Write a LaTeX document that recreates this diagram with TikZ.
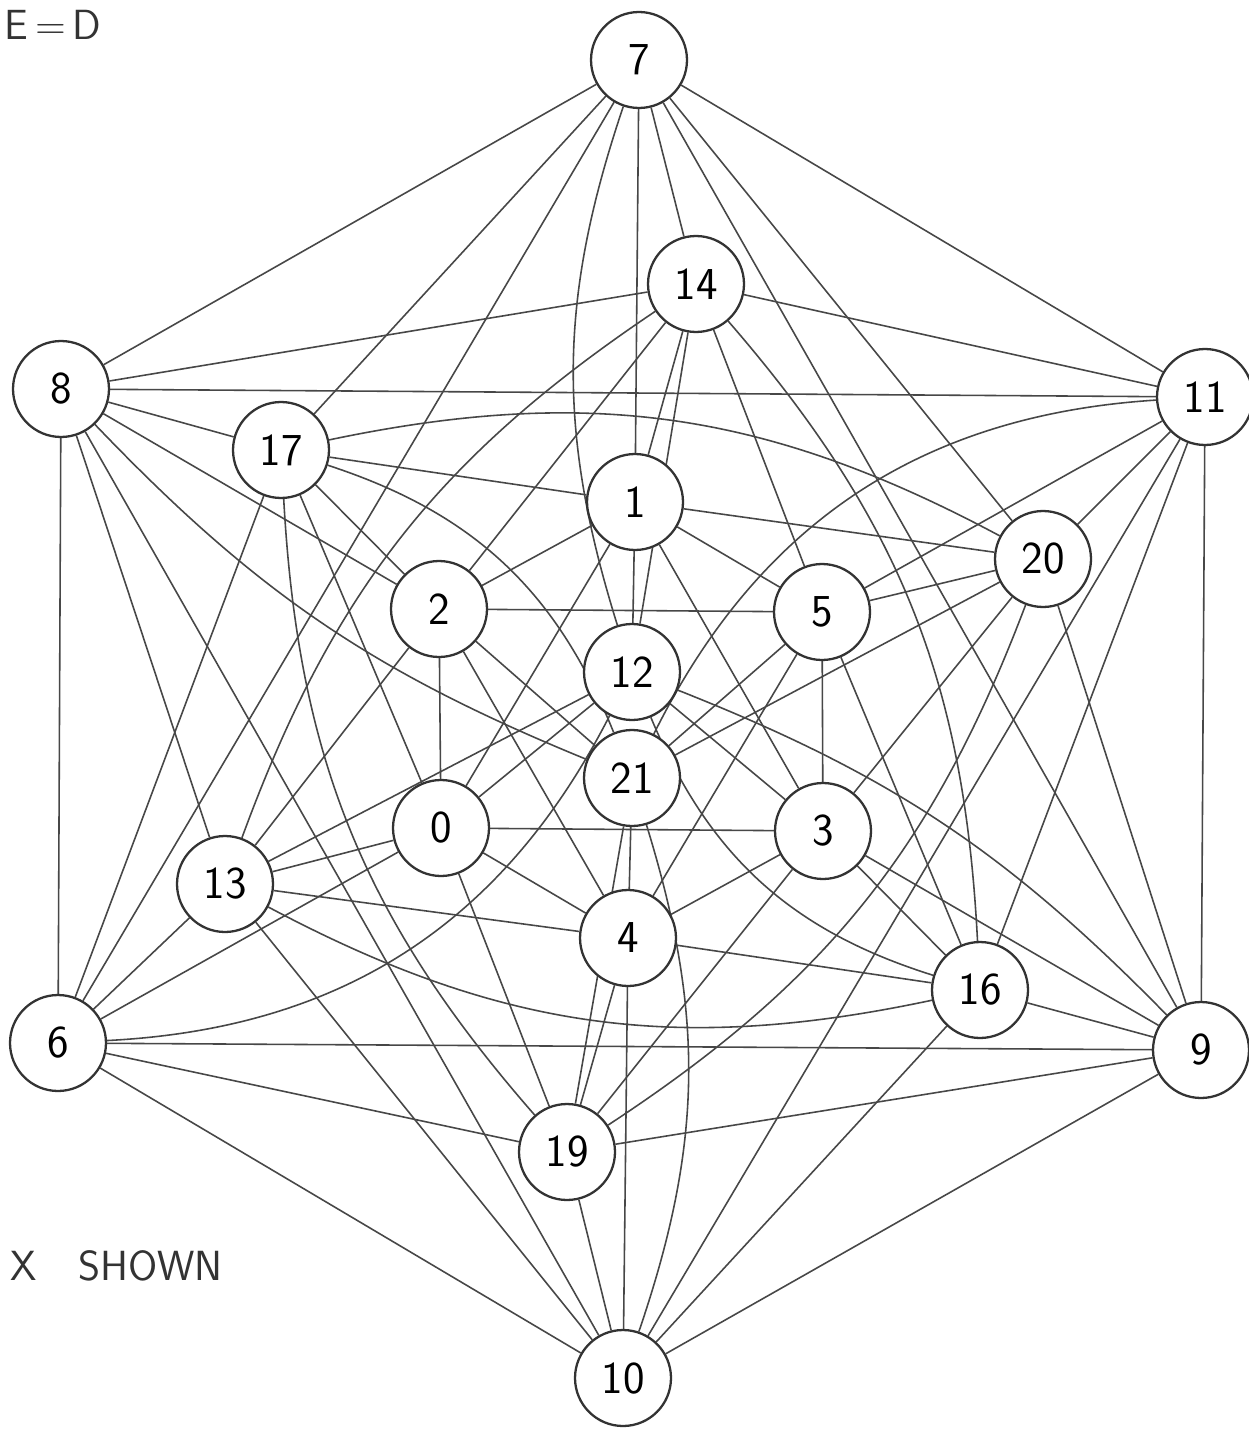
\documentclass[tikz,border=0pt]{standalone}
\usetikzlibrary{backgrounds}
\tikzset{
  vtx/.style={circle, draw=black!80, line width=1.3pt, fill=white, minimum size=1.92cm, inner sep=0pt, font=\sffamily\fontsize{26}{28}\selectfont},
  edge/.style={draw=black!72, line width=0.9pt},
  hand/.style={font=\sffamily\fontsize{24}{28}\selectfont, text=black!80, inner sep=0pt},
}
\begin{document}
\begin{tikzpicture}[x=0.02cm,y=-0.02cm]
\useasboundingbox (0,0) rectangle (1248,1429);
\node[vtx] (n7) at (639,60) {7};
\node[vtx] (n10) at (623,1378) {10};
\node[vtx] (n8) at (61,389) {8};
\node[vtx] (n9) at (1201,1050) {9};
\node[vtx] (n11) at (1205,397) {11};
\node[vtx] (n6) at (58,1043) {6};
\node[vtx] (n14) at (696,284) {14};
\node[vtx] (n19) at (567,1152) {19};
\node[vtx] (n17) at (281,450) {17};
\node[vtx] (n16) at (980,990) {16};
\node[vtx] (n20) at (1043,559) {20};
\node[vtx] (n13) at (225,884) {13};
\node[vtx] (n1) at (635,502) {1};
\node[vtx] (n4) at (628,938) {4};
\node[vtx] (n2) at (439,609) {2};
\node[vtx] (n3) at (823,831) {3};
\node[vtx] (n5) at (822,612) {5};
\node[vtx] (n0) at (441,828) {0};
\node[vtx] (n12) at (632,672) {12};
\node[vtx] (n21) at (632,778) {21};
\node[hand, anchor=base west] (tE) at (4,40) {E\,=\,D};
\node[hand, anchor=base west] (tX) at (10,1280) {X\quad SHOWN};
\begin{scope}[on background layer]
\fill[white] (0,0) rectangle (1248,1429);
\foreach \a/\b in {7/8,7/11,7/17,7/6,7/1,7/14,7/9,7/20,
  10/9,10/6,10/16,10/11,10/4,10/19,10/8,10/13,
  1/14,1/17,1/20,1/5,1/2,1/0,1/12,1/3,
  4/19,4/16,4/13,4/0,4/3,4/5,4/21,4/2,
  11/14,11/8,11/5,11/20,11/16,11/9,
  6/19,6/9,6/0,6/13,6/17,6/8,
  8/14,8/17,8/13,9/19,9/16,9/20,
  14/2,14/12,14/5,19/3,19/21,19/0,
  2/13,3/20,5/2,5/20,5/21,5/3,5/16,
  0/3,0/13,0/12,0/2,0/17,20/21,13/12,
  2/21,3/12,2/8,3/9,2/17,3/16}
  \draw[edge] (n\a) -- (n\b);
\draw[edge] (n7) to[bend right=18] (n12);
\draw[edge] (n10) to[bend right=18] (n21);
\draw[edge] (n14) to[bend right=18] (n13);
\draw[edge] (n19) to[bend right=18] (n20);
\draw[edge] (n17) to[bend left=20] (n20);
\draw[edge] (n16) to[bend left=20] (n13);
\draw[edge] (n11) to[bend right=30] (n21);
\draw[edge] (n6) to[bend right=30] (n12);
\draw[edge] (n17) to[bend left=25] (n21);
\draw[edge] (n16) to[bend left=25] (n12);
\draw[edge] (n8) to[bend right=12] (n21);
\draw[edge] (n9) to[bend right=12] (n12);
\draw[edge] (n17) to[bend right=19] (n19);
\draw[edge] (n16) to[bend right=19] (n14);
\end{scope}
\end{tikzpicture}
\end{document}
